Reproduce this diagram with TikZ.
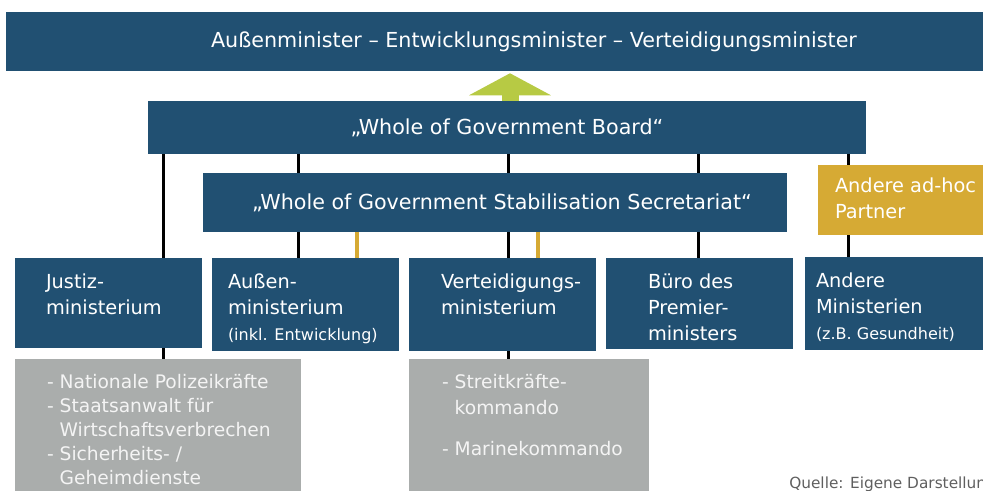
\documentclass[tikz,border=0pt]{standalone}
\usepackage{fontspec}
\setmainfont{DejaVu Sans}
\usetikzlibrary{arrows.meta}
\definecolor{govblue}{RGB}{33,80,114}
\definecolor{adhocgold}{RGB}{214,170,52}
\definecolor{arrowgreen}{RGB}{183,202,68}
\definecolor{subgray}{RGB}{170,173,172}
\definecolor{subtext}{RGB}{244,244,244}
\definecolor{srcgray}{RGB}{95,95,95}
\tikzstyle{govbox} = [rectangle, fill=govblue, text=white, inner sep=0pt, font=\fontsize{15.5}{19.5}\selectfont]
\tikzstyle{adhocbox} = [rectangle, fill=adhocgold, inner sep=0pt]
\tikzstyle{subbox} = [rectangle, fill=subgray, inner sep=0pt]
\tikzstyle{boxtext} = [anchor=north west, inner sep=0pt, align=left, text=white, font=\fontsize{14.5}{19.5}\selectfont]
\tikzstyle{subtxt} = [boxtext, text=subtext, font=\fontsize{14}{18}\selectfont]
\tikzstyle{link} = [draw=black, line width=2.25pt]
\tikzstyle{goldlink} = [draw=adhocgold, line width=3pt]
\tikzstyle{uparrow} = [draw=arrowgreen, line width=12.75pt, -{Triangle[width=60.75pt, length=16.5pt]}, shorten >=1.5pt]
\newcommand{\smalltxt}[1]{{\fontsize{12}{15}\selectfont #1}}

\begin{document}
\begin{tikzpicture}[x=0.75pt, y=-0.75pt]
 \clip (0,0) rectangle (983,491);

 % columns of the connectors
 \coordinate (c0) at (510,0);
 \coordinate (c1) at (163,0);
 \coordinate (c2) at (298,0);
 \coordinate (c3) at (508,0);
 \coordinate (c4) at (698,0);
 \coordinate (c5) at (848,0);
 \coordinate (g1) at (357,0);
 \coordinate (g2) at (538,0);

 % boxes
 \node (top) [govbox, minimum width=792pt, minimum height=44.25pt] at (534,41.5) {Außenminister – Entwicklungsminister – Verteidigungsminister};
 \node (board) [govbox, minimum width=538.5pt, minimum height=39.75pt] at (507,127.5) {„Whole of Government Board“};
 \node (secr) [govbox, minimum width=438pt, minimum height=44.25pt] at (495,202.5) {\hspace*{10.5pt}„Whole of Government Stabilisation Secretariat“};
 \node (adhoc) [adhocbox, minimum width=136.5pt, minimum height=52.5pt] at (909,200) {};

 \node (justiz) [govbox, minimum width=140.25pt, minimum height=67.5pt] at (108.5,303) {};
 \node (aussen) [govbox, minimum width=140.25pt, minimum height=69.75pt] at (305.5,304.5) {};
 \node (verteid) [govbox, minimum width=140.25pt, minimum height=69.75pt] at (502.5,304.5) {};
 \node (buero) [govbox, minimum width=140.25pt, minimum height=68.25pt] at (699.5,303.5) {};
 \node (andere) [govbox, minimum width=146.25pt, minimum height=69.75pt] at (902.5,303.5) {};

 \node (justiz-sub) [subbox, minimum width=214.5pt, minimum height=105.75pt] at (158,429.5) {};
 \node (verteid-sub) [subbox, minimum width=180pt, minimum height=105.75pt] at (529,429.5) {};

 % texts of the boxes
 \node (adhoc-t) [boxtext] at ([shift={(17,13)}]adhoc.north west) {Andere ad-hoc\\Partner};
 \node (justiz-t) [boxtext] at ([shift={(31,16)}]justiz.north west) {Justiz-\\ministerium};
 \node (aussen-t) [boxtext] at ([shift={(16,16)}]aussen.north west) {Außen-\\ministerium\\\smalltxt{(inkl. Entwicklung)}};
 \node (verteid-t) [boxtext] at ([shift={(32,16)}]verteid.north west) {Verteidigungs-\\ministerium};
 \node (buero-t) [boxtext] at ([shift={(42,16)}]buero.north west) {Büro des\\Premier-\\ministers};
 \node (andere-t) [boxtext] at ([shift={(11,16)}]andere.north west) {Andere\\Ministerien\\\smalltxt{(z.B. Gesundheit)}};
 \node (justiz-sub-t) [subtxt] at ([shift={(32,15)}]justiz-sub.north west) {- Nationale Polizeikräfte\\- Staatsanwalt für\\\hphantom{- }Wirtschaftsverbrechen\\- Sicherheits- /\\\hphantom{- }Geheimdienste};
 \node (verteid-sub-t) [subtxt] at ([shift={(33,15)}]verteid-sub.north west) {- Streitkräfte-\\[1.5pt]\hphantom{- }kommando\\[12.75pt]- Marinekommando};

 \node (source) [anchor=base west, inner sep=0pt, text=srcgray, font=\fontsize{11.5}{13}\selectfont] at (789,489) {Quelle: Eigene Darstellung};

 % connectors
 \draw[uparrow] (c0 |- board.north) -- (c0 |- top.south);
 \draw[link] (c1 |- board.south) -- (c1 |- justiz.north);
 \draw[link] (c1 |- justiz.south) -- (c1 |- justiz-sub.north);
 \draw[link] (c2 |- board.south) -- (c2 |- secr.north);
 \draw[link] (c3 |- board.south) -- (c3 |- secr.north);
 \draw[link] (c4 |- board.south) -- (c4 |- secr.north);
 \draw[link] (c2 |- secr.south) -- (c2 |- aussen.north);
 \draw[link] (c3 |- secr.south) -- (c3 |- verteid.north);
 \draw[link] (c4 |- secr.south) -- (c4 |- buero.north);
 \draw[link] (c3 |- verteid.south) -- (c3 |- verteid-sub.north);
 \draw[link] (c5 |- board.south) -- (c5 |- adhoc.north);
 \draw[link] (c5 |- adhoc.south) -- (c5 |- andere.north);
 \draw[goldlink] (g1 |- secr.south) -- (g1 |- aussen.north);
 \draw[goldlink] (g2 |- secr.south) -- (g2 |- verteid.north);
\end{tikzpicture}
\end{document}
